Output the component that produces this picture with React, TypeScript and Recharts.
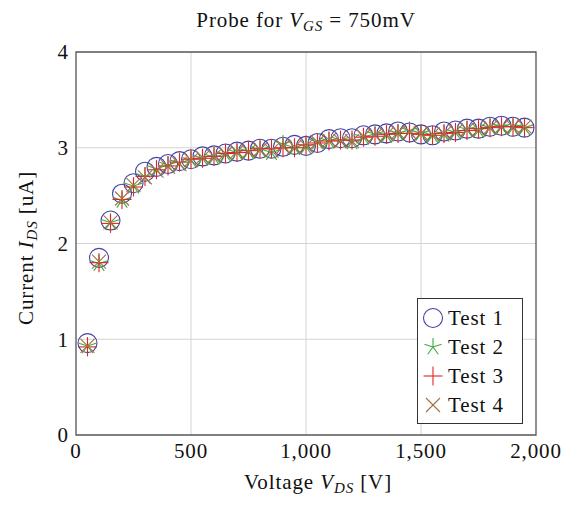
import React from 'react';
import { ScatterChart, Scatter, XAxis, YAxis, CartesianGrid, ReferenceArea, Legend, Customized } from 'recharts';

const voltages = [50, 100, 150, 200, 250, 300, 350, 400, 450, 500, 550, 600, 650, 700, 750, 800, 850, 900, 950, 1000, 1050, 1100, 1150, 1200, 1250, 1300, 1350, 1400, 1450, 1500, 1550, 1600, 1650, 1700, 1750, 1800, 1850, 1900, 1950];
const test1 = [0.96, 1.85, 2.24, 2.52, 2.63, 2.75, 2.80, 2.83, 2.86, 2.88, 2.91, 2.92, 2.94, 2.96, 2.97, 2.99, 2.99, 3.01, 3.03, 3.02, 3.05, 3.09, 3.10, 3.10, 3.13, 3.14, 3.15, 3.17, 3.16, 3.14, 3.13, 3.17, 3.18, 3.20, 3.20, 3.22, 3.23, 3.22, 3.21];
const test2 = [0.93, 1.79, 2.22, 2.45, 2.60, 2.70, 2.78, 2.82, 2.84, 2.87, 2.89, 2.90, 2.93, 2.95, 2.96, 2.98, 2.95, 3.04, 3.00, 3.01, 3.06, 3.07, 3.08, 3.06, 3.11, 3.14, 3.13, 3.15, 3.18, 3.15, 3.13, 3.14, 3.16, 3.19, 3.18, 3.21, 3.22, 3.21, 3.21];
const test3 = [0.92, 1.80, 2.21, 2.46, 2.59, 2.70, 2.77, 2.81, 2.85, 2.88, 2.89, 2.91, 2.94, 2.95, 2.97, 2.99, 2.99, 3.00, 3.00, 3.03, 3.05, 3.07, 3.08, 3.08, 3.11, 3.12, 3.14, 3.15, 3.15, 3.14, 3.13, 3.15, 3.16, 3.18, 3.20, 3.21, 3.22, 3.22, 3.21];
const test4 = [0.93, 1.81, 2.22, 2.47, 2.61, 2.69, 2.76, 2.80, 2.83, 2.87, 2.90, 2.91, 2.94, 2.96, 2.96, 2.98, 2.97, 3.01, 3.01, 3.02, 3.06, 3.08, 3.07, 3.07, 3.12, 3.13, 3.14, 3.16, 3.16, 3.15, 3.14, 3.15, 3.17, 3.19, 3.19, 3.21, 3.22, 3.22, 3.22];

const xTicks = [0, 500, 1000, 1500, 2000];
const yTicks = [0, 1, 2, 3, 4];
const seriesNames = ['Test 1', 'Test 2', 'Test 3', 'Test 4'];

const FONT = '"Liberation Serif", "DejaVu Serif", serif';
const FS = 21;
const LS = 0.9;
const COLORS = { circle: '#4242a6', star: '#3cab3c', plus: '#e32424', cross: '#a3703e' };

const toRows = (ys: number[]) => voltages.map((x, i) => ({ x, y: ys[i] }));

function Mark({ kind, cx, cy }: { kind: string; cx: number; cy: number }) {
  if (kind === 'circle') {
    return <circle cx={cx} cy={cy} r={9.5} fill="none" stroke={COLORS.circle} strokeWidth={1.1} />;
  }
  if (kind === 'star') {
    const r = 9;
    const angles = [90, 18, 162, -54, -126];
    return (
      <g stroke={COLORS.star} strokeWidth={1.1}>
        {angles.map((a) => (
          <line key={a} x1={cx} y1={cy} x2={cx + r * Math.cos((a * Math.PI) / 180)} y2={cy - r * Math.sin((a * Math.PI) / 180)} />
        ))}
      </g>
    );
  }
  if (kind === 'plus') {
    const r = 9.5;
    return (
      <g stroke={COLORS.plus} strokeWidth={1.1}>
        <line x1={cx - r} y1={cy} x2={cx + r} y2={cy} />
        <line x1={cx} y1={cy - r} x2={cx} y2={cy + r} />
      </g>
    );
  }
  const r = 7;
  return (
    <g stroke={COLORS.cross} strokeWidth={1.1}>
      <line x1={cx - r} y1={cy - r} x2={cx + r} y2={cy + r} />
      <line x1={cx - r} y1={cy + r} x2={cx + r} y2={cy - r} />
    </g>
  );
}

const shapeFor = (kind: string) => (props: any) => <Mark kind={kind} cx={props.cx} cy={props.cy} />;

const kinds = ['circle', 'star', 'plus', 'cross'];

function LegendBox() {
  return (
    <svg width={106} height={126} style={{ display: 'block' }}>
      <rect x={0.5} y={0.5} width={105} height={125} fill="#fff" stroke="#333" strokeWidth={1} />
      {seriesNames.map((name, i) => {
        const cy = 20 + i * 29;
        return (
          <g key={name}>
            <Mark kind={kinds[i]} cx={16} cy={cy} />
            <text x={31} y={cy + 7} fontFamily={FONT} fontSize={FS} letterSpacing={LS} fill="#111">{name}</text>
          </g>
        );
      })}
    </svg>
  );
}

function Titles() {
  return (
    <g fontFamily={FONT} fill="#111" letterSpacing={LS}>
      <text x={306} y={27} fontSize={FS} textAnchor="middle">
        Probe for <tspan fontStyle="italic">V</tspan>
        <tspan fontStyle="italic" fontSize={15} dy={4}>GS</tspan>
        <tspan dy={-4}> = 750mV</tspan>
      </text>
      <text x={318} y={489} fontSize={FS} textAnchor="middle">
        Voltage <tspan fontStyle="italic">V</tspan>
        <tspan fontStyle="italic" fontSize={15} dy={4}>DS</tspan>
        <tspan dy={-4}> [V]</tspan>
      </text>
      <text x={0} y={0} fontSize={FS} textAnchor="middle" transform="translate(33,248) rotate(-90)">
        Current <tspan fontStyle="italic">I</tspan>
        <tspan fontStyle="italic" fontSize={15} dy={4}>DS</tspan>
        <tspan dy={-4}> [uA]</tspan>
      </text>
    </g>
  );
}

export default function App() {
  return (
    <div style={{ position: 'absolute', left: 0, top: 0, background: '#fff' }}>
      <ScatterChart width={577} height={505} margin={{ top: 52, right: 41, left: 36, bottom: 40 }}>
        <CartesianGrid stroke="#d4d4d4" strokeWidth={1} horizontalValues={[1, 2, 3]} verticalValues={[500, 1000, 1500]} />
        <XAxis
          type="number"
          dataKey="x"
          domain={[0, 2000]}
          ticks={xTicks}
          height={30}
          axisLine={false}
          tickLine={false}
          tick={{ fontFamily: FONT, fontSize: FS, fill: '#111', letterSpacing: LS }}
          tickFormatter={(v: number) => v.toLocaleString('en-US')}
          interval={0}
        />
        <YAxis
          type="number"
          dataKey="y"
          domain={[0, 4]}
          ticks={yTicks}
          width={40}
          axisLine={false}
          tickLine={false}
          tick={{ fontFamily: FONT, fontSize: FS, fill: '#111' }}
          interval={0}
        />
        <ReferenceArea x1={0} x2={2000} y1={0} y2={4} fill="none" stroke="#555" strokeWidth={1.3} fillOpacity={0} />
        {[test1, test2, test3, test4].map((ys, i) => (
          <Scatter key={seriesNames[i]} name={seriesNames[i]} data={toRows(ys)} shape={shapeFor(kinds[i])} isAnimationActive={false} />
        ))}
        <Legend
          layout="vertical"
          align="center"
          verticalAlign="middle"
          content={() => <LegendBox />}
          wrapperStyle={{ position: 'absolute', left: 417, top: 298, width: 106, height: 126 }}
        />
        <Customized component={Titles} />
      </ScatterChart>
    </div>
  );
}
